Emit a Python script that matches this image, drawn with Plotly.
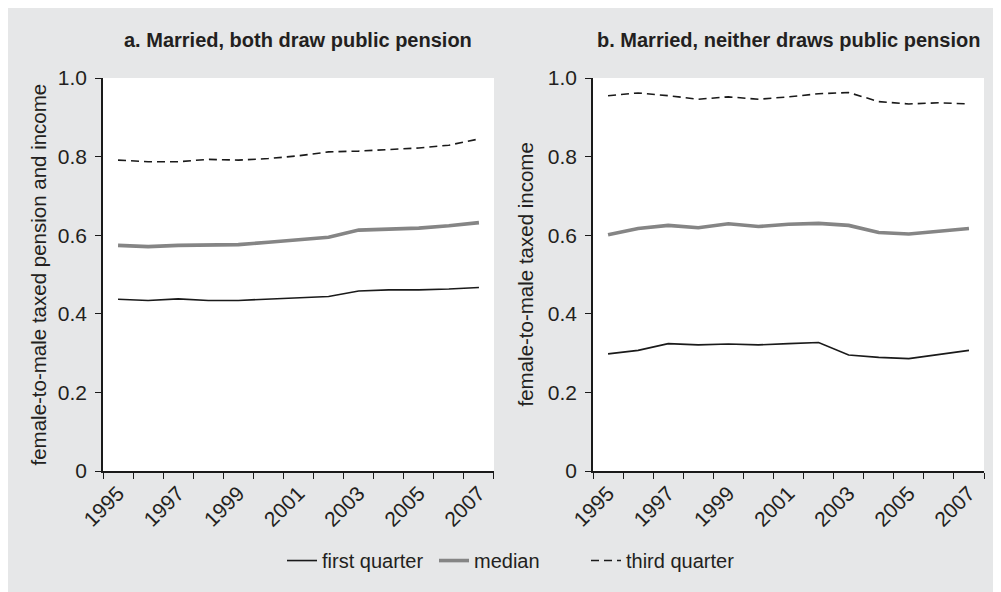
import plotly.graph_objects as go
from plotly.subplots import make_subplots

years = list(range(1995, 2008))

# panel a: married, both draw public pension
a_first = [0.437, 0.434, 0.438, 0.434, 0.434, 0.437, 0.440, 0.444, 0.458, 0.461, 0.461, 0.463, 0.467]
a_median = [0.574, 0.571, 0.574, 0.576, 0.576, 0.582, 0.588, 0.595, 0.613, 0.615, 0.618, 0.624, 0.632]
a_third = [0.791, 0.787, 0.787, 0.793, 0.791, 0.795, 0.802, 0.812, 0.814, 0.818, 0.822, 0.829, 0.845]

# panel b: married, neither draws public pension
b_first = [0.298, 0.307, 0.324, 0.321, 0.323, 0.321, 0.324, 0.327, 0.295, 0.289, 0.286, 0.296, 0.307]
b_median = [0.601, 0.617, 0.625, 0.619, 0.629, 0.622, 0.628, 0.630, 0.625, 0.607, 0.603, 0.611, 0.617]
b_third = [0.955, 0.962, 0.955, 0.946, 0.952, 0.946, 0.952, 0.960, 0.963, 0.940, 0.934, 0.937, 0.934]

titles = ["a. Married, both draw public pension", "b. Married, neither draws public pension"]
ytitles = ["female-to-male taxed pension and income", "female-to-male taxed income"]
series_names = ["first quarter", "median", "third quarter"]
ytick_vals = [0, 0.2, 0.4, 0.6, 0.8, 1.0]
ytick_text = ["0", "0.2", "0.4", "0.6", "0.8", "1.0"]
xtick_vals = [1995, 1997, 1999, 2001, 2003, 2005, 2007]

TXT = "#231f20"
BG = "#e6e7e8"
FONT = "Liberation Sans, Arial, sans-serif"

styles = [
    dict(color="#1a1a1a", width=1.6),
    dict(color="#858585", width=3.6),
    dict(color="#1a1a1a", width=1.6, dash="8px,5px"),
]

fig = make_subplots(rows=1, cols=2, horizontal_spacing=0.1124)

panels = [(a_first, a_median, a_third), (b_first, b_median, b_third)]
for c, data in enumerate(panels, start=1):
    for name, ys, st in zip(series_names, data, styles):
        fig.add_trace(go.Scatter(x=years, y=ys, mode="lines", name=name, line=st,
                                 legendgroup=name, showlegend=(c == 1)), row=1, col=c)

# page body has an 8px margin, so the figure is laid out 8px smaller
OFF = 8
W, H = 1001 - OFF, 592 - OFF
L, R, T, B = 103 - OFF, 17, 78 - OFF, 119
pw, ph = W - L - R, H - T - B

def px(x):
    return (x - OFF - L) / pw

def py(y):
    return (H - B - (y - OFF)) / ph

shapes = [dict(type="rect", xref="paper", yref="paper", x0=px(0), x1=px(1010),
               y0=py(600), y1=py(0), fillcolor=BG, line_width=0, layer="below")]
for xr, yr in [("x domain", "y domain"), ("x2 domain", "y2 domain")]:
    shapes.append(dict(type="rect", xref=xr, yref=yr, x0=0, x1=1, y0=0, y1=1,
                       fillcolor="white", line_width=0, layer="below"))

annotations = []
for i, t in enumerate(titles):
    xr = "x domain" if i == 0 else "x2 domain"
    yr = "y domain" if i == 0 else "y2 domain"
    annotations.append(dict(text="<b>" + t + "</b>", xref=xr, yref=yr, x=0.5, y=1,
                            yshift=38, showarrow=False, font=dict(size=20, color=TXT),
                            xanchor="center", yanchor="middle"))
for xpos, yt in zip([38, 525], ytitles):
    annotations.append(dict(text=yt, xref="paper", yref="paper", x=px(xpos), y=0.5,
                            xanchor="center", yanchor="middle", textangle=-90,
                            showarrow=False, font=dict(size=20.5, color=TXT)))

fig.update_xaxes(range=[1994.5, 2007.5], tickmode="array", tickvals=xtick_vals,
                 ticks="", tickangle=-45, showgrid=False, zeroline=False,
                 showline=True, linecolor="#1a1a1a", linewidth=1.5,
                 tickfont=dict(size=21, color=TXT),
                 minor=dict(tickmode="array", tickvals=[y - 0.5 for y in years] + [2007.5],
                            ticks="outside", ticklen=6, tickcolor="#1a1a1a", tickwidth=1.2,
                            showgrid=False))
fig.update_yaxes(range=[0, 1], tickmode="array", tickvals=ytick_vals, ticktext=ytick_text,
                 ticks="outside", ticklen=6, tickcolor="#1a1a1a", tickwidth=1.2,
                 ticklabelstandoff=4,
                 showgrid=False, zeroline=False, showline=True, linecolor="#1a1a1a",
                 linewidth=1.5, tickfont=dict(size=21, color=TXT))

fig.update_layout(
    width=W, height=H,
    margin=dict(l=L, r=R, t=T, b=B),
    paper_bgcolor="white", plot_bgcolor="white",
    font=dict(family=FONT, color=TXT, size=20),
    shapes=shapes, annotations=annotations,
    legend=dict(orientation="h", x=px(510), xanchor="center", y=py(563), yanchor="middle",
                bgcolor="rgba(0,0,0,0)", font=dict(size=20, color=TXT),
                itemwidth=30, tracegroupgap=0, entrywidth=107, entrywidthmode="pixels"),
)

fig.write_html("out.html")
